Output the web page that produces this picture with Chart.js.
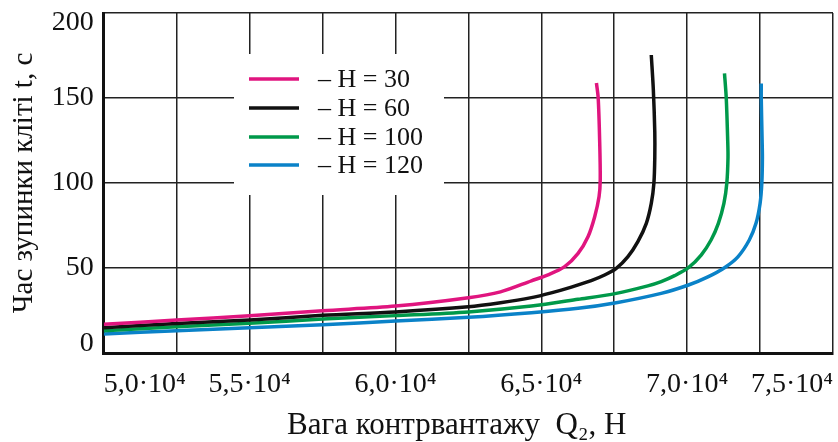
<!DOCTYPE html>
<html>
<head>
<meta charset="utf-8">
<script src="https://cdn.jsdelivr.net/npm/chart.js@4/dist/chart.umd.min.js"></script>
<style>
html,body{margin:0;padding:0;background:#fff;}
#c{display:block;}
</style>
</head>
<body>
<canvas id="c" width="838" height="442"></canvas>
<script>
// Series: [Q2 (N), t (s)]
const seriesLabels = ['H = 30', 'H = 60', 'H = 100', 'H = 120'];
const seriesColors = ['#E0157F', '#111111', '#00994A', '#0A82C8'];

const h30 = [
  [50000,16.9],[52500,19.4],[55000,21.9],[57500,24.9],[60000,27.6],[62500,32.5],
  [63600,36],[64660,42.5],[65230,46],[65800,50.8],[66260,58.6],[66600,68.4],
  [66830,80.2],[66980,92],[67020,102],[67000,125],[66950,150],[66890,158.8]
];
const h60 = [
  [50000,14.9],[52500,17.4],[55000,19.4],[57500,22.2],[60000,24.2],[62500,27.2],
  [63600,29.6],[64660,32.6],[65340,35.4],[66030,38.8],[66710,42.6],[67170,45.9],
  [67570,49.8],[67970,56.7],[68310,65.5],[68600,76.3],[68770,88],[68860,100],
  [68890,115],[68890,130],[68840,155],[68770,175.3]
];
const h100 = [
  [50000,13.1],[52500,15.5],[55000,17.5],[57500,20.0],[60000,22.0],[62500,24.2],
  [64660,27.6],[66260,31.6],[67570,35.1],[68650,39.5],[69110,42],[69570,45.5],
  [70045,50.2],[70480,57.6],[70820,66.5],[71070,76.3],[71260,88],[71360,100],
  [71400,115],[71390,125],[71340,150],[71280,164.5]
];
const h120 = [
  [50000,11.2],[52500,13.1],[55000,14.9],[57500,16.6],[60000,18.8],[62500,21.0],
  [64660,23.7],[66260,26.3],[67570,29.6],[69110,35.1],[70045,40],[70710,44.8],
  [71280,50.2],[71740,56.6],[72130,66.5],[72360,76.3],[72500,88],[72560,100],
  [72580,115],[72570,125],[72540,150],[72540,158.6]
];
const seriesData = [h30, h60, h100, h120];

const xMin = 50000, xMax = 75000, xStep = 2500;
const yMin = 0, yMax = 200, yStep = 50;
const yTitle = 'Час зупинки кліті t, с';
const xTitle = 'Вага контрвантажу  Q\u2082, Н';

const FONT = '"Liberation Serif", "Times New Roman", "DejaVu Serif", serif';

const legendPlugin = {
  id: 'insideLegend',
  beforeDatasetsDraw(chart) {
    const ctx = chart.ctx;
    ctx.save();
    ctx.fillStyle = '#ffffff';
    ctx.fillRect(234, 54, 210, 141);
    const rows = [79, 108, 137, 165];
    chart.data.datasets.forEach((ds, i) => {
      const y = rows[i];
      ctx.strokeStyle = ds.borderColor;
      ctx.lineWidth = 3.5;
      ctx.beginPath();
      ctx.moveTo(249, y);
      ctx.lineTo(299, y);
      ctx.stroke();
      ctx.fillStyle = '#111';
      ctx.font = '26px ' + FONT;
      ctx.textBaseline = 'middle';
      ctx.textAlign = 'left';
      ctx.fillText('\u2013 ' + ds.label, 318, y + 1);
    });
    ctx.restore();
  }
};

new Chart(document.getElementById('c'), {
  type: 'scatter',
  data: {
    datasets: seriesData.map((d, i) => ({
      label: seriesLabels[i],
      data: d.map(p => ({x: p[0], y: p[1]})),
      showLine: true,
      borderColor: seriesColors[i],
      backgroundColor: seriesColors[i],
      borderWidth: 3.5,
      pointRadius: 0,
      tension: 0.3,
      fill: false
    }))
  },
  options: {
    responsive: false,
    animation: false,
    devicePixelRatio: 1,
    layout: { padding: { left: 7, right: 5, top: 13, bottom: 0 } },
    plugins: { legend: { display: false }, tooltip: { enabled: false } },
    scales: {
      x: {
        type: 'linear', min: xMin, max: xMax,
        afterFit(s) { s.paddingLeft = 0; s.paddingRight = 0; },
        ticks: {
          stepSize: xStep, autoSkip: false, maxRotation: 0, align: 'inner',
          padding: 18, color: '#111',
          font: { family: FONT, size: 28, lineHeight: 1 },
          callback: v => (v % 5000 === 0) ? (v / 1e4).toFixed(1).replace('.', ',') + '\u00B710\u2074' : ''
        },
        grid: { color: '#222', lineWidth: 1.5, drawTicks: false },
        border: { display: true, color: '#111', width: 3 },
        title: { display: true, text: xTitle + '\u00A0\u00A0\u00A0', color: '#111', font: { family: FONT, size: 31, lineHeight: 0.87 }, padding: { top: -5, bottom: 3 } }
      },
      y: {
        min: yMin, max: yMax,
        afterFit(s) { s.paddingTop = 0; s.paddingBottom = 0; },
        ticks: {
          stepSize: yStep, padding: 10, color: '#111',
          font: { family: FONT, size: 28, lineHeight: 0.7 },
          callback: v => v === yMax ? ['', String(v)] : (v === yMin ? [String(v), ''] : String(v))
        },
        grid: { color: '#222', lineWidth: 1.5, drawTicks: false },
        border: { display: true, color: '#111', width: 3 },
        title: { display: true, text: yTitle, color: '#111', font: { family: FONT, size: 29 }, padding: 0 }
      }
    }
  },
  plugins: [legendPlugin]
});
</script>
</body>
</html>
